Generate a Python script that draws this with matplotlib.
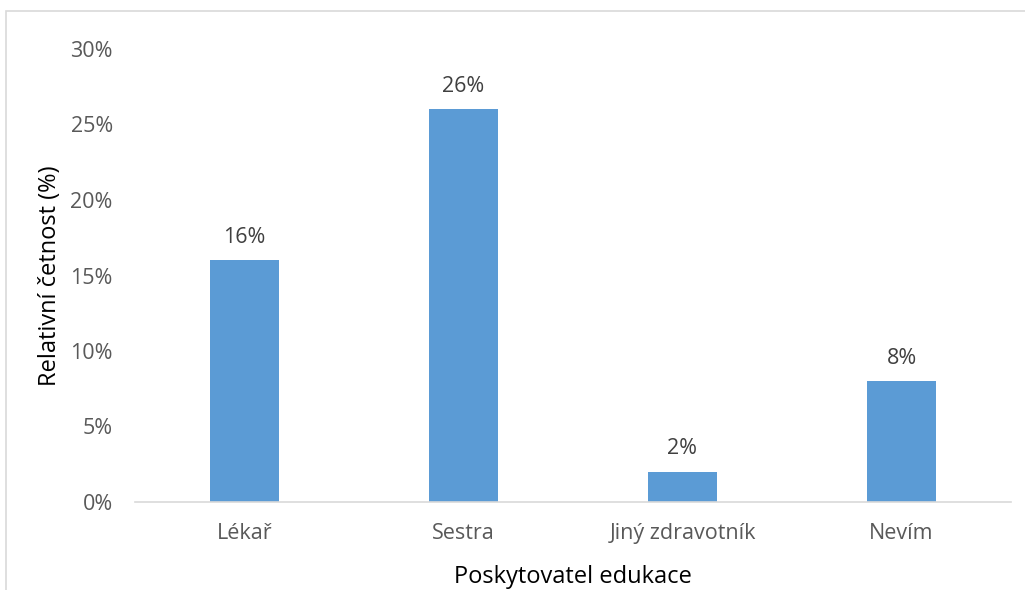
import matplotlib.pyplot as plt
from matplotlib.patches import Rectangle

categories = ['Lékař', 'Sestra', 'Jiný zdravotník', 'Nevím']
values = [16, 26, 2, 8]
yticks = [0, 5, 10, 15, 20, 25, 30]

plt.rcParams['font.family'] = ['Open Sans', 'DejaVu Sans']

fig = plt.figure(figsize=(10.25, 5.9), dpi=100)
W, H = 1025, 590
ax = fig.add_axes([135 / W, 1 - 502 / H, (1011 - 135) / W, (502 - 49) / H])

x = range(len(categories))
bars = ax.bar(x, values, width=0.315, color='#5B9BD5', zorder=2)
for b, v in zip(bars, values):
    ax.annotate(f'{v}%', (b.get_x() + b.get_width() / 2, v), xytext=(0, 9),
                textcoords='offset points', ha='center', va='bottom',
                fontsize=15.5, color='#404040')

ax.set_xlim(-0.5, len(categories) - 0.5)
ax.set_ylim(0, 30)
ax.set_yticks(yticks)
ax.set_yticklabels([f'{t}%' for t in yticks])
ax.set_xticks(list(x))
ax.set_xticklabels(categories)
ax.tick_params(axis='both', length=0, labelsize=15.5, colors='#595959')
ax.tick_params(axis='y', pad=16)
ax.tick_params(axis='x', pad=15)

for s in ['top', 'right', 'left']:
    ax.spines[s].set_visible(False)
ax.spines['bottom'].set_color('#D9D9D9')
ax.spines['bottom'].set_linewidth(1.2)

ax.set_xlabel('Poskytovatel edukace', fontsize=17, color='black', labelpad=15)
ax.set_ylabel('Relativní četnost (%)', fontsize=17, color='black', labelpad=6)

# chart area border
fig.patches.append(Rectangle((6 / W, -0.1), 1.2, 1 - 11 / H + 0.1, transform=fig.transFigure,
                             fill=False, edgecolor='#D9D9D9', linewidth=1.2))

fig.savefig('out.png', dpi=100)
